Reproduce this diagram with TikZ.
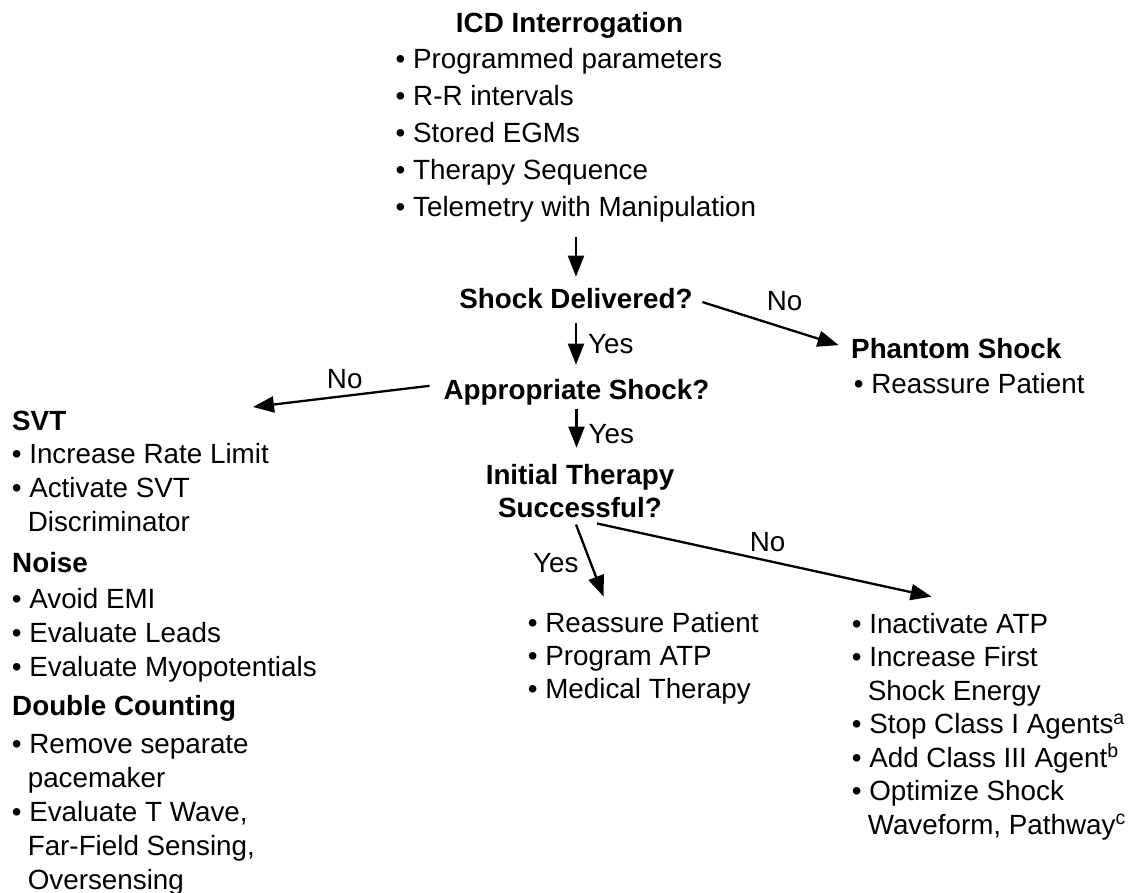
\documentclass[tikz,border=0pt]{standalone}
\usepackage{fontspec}
\setmainfont{Liberation Sans}
\usetikzlibrary{calc,arrows.meta}
\def\bul{\makebox[17.5pt][l]{•}}
\def\cnt{\hspace*{16pt}}
\tikzset{
	txt/.style={inner sep=0pt, anchor=base west, align=left, font=\fontsize{27.8}{34}\selectfont},
	hd/.style={txt, font=\fontsize{27.8}{34}\selectfont\bfseries},
	ques/.style={inner sep=0pt, anchor=base, align=center, font=\fontsize{27.8}{33}\selectfont\bfseries},
	lbl/.style={inner sep=0pt, font=\fontsize{27.8}{34}\selectfont},
	arr/.style={line width=2.3pt, -{Triangle[length=21pt,width=16pt]}}
}

\begin{document}
\begin{tikzpicture}[x=1pt,y=-1pt]
			%%%%% START %%%%%
			\useasboundingbox (0,0) rectangle (1130,893);
			
			% multi-line nodes sit on the baseline of their last line
			\node[ques] (icd) at (569.5,33) {ICD Interrogation};
			\node[txt, font=\fontsize{27.8}{37}\selectfont] (icdlist) at (395.5,217) {\bul Programmed parameters\\\bul R-R intervals\\\bul Stored EGMs\\\bul Therapy Sequence\\\bul Telemetry with Manipulation};
			
			\node[ques] (shock) at (576,309) {Shock Delivered?};
			\node[hd] (phantom) at (851,359) {Phantom Shock};
			\node[txt] (phantomlist) at (853.6,393) {\bul Reassure Patient};
			
			\node[ques] (approp) at (576.5,399) {Appropriate Shock?};
			\coordinate (svtin) at (253,407);
			
			\node[hd] (svt) at (12,430) {SVT};
			\node[txt] (svtlist) at (11.6,531) {\bul Increase Rate Limit\\\bul Activate SVT\\\cnt Discriminator};
			\node[hd] (noise) at (12,572) {Noise};
			\node[txt] (noiselist) at (11.6,676) {\bul Avoid EMI\\\bul Evaluate Leads\\\bul Evaluate Myopotentials};
			\node[hd] (dblcount) at (12,715) {Double Counting};
			\node[txt] (dblcountlist) at (11.6,889) {\bul Remove separate\\\cnt pacemaker\\\bul Evaluate T Wave,\\\cnt Far-Field Sensing,\\\cnt Oversensing};
			
			\node[ques] (initial) at (580,517) {Initial Therapy\\Successful?};
			\node[txt, font=\fontsize{27.8}{33}\selectfont] (midlist) at (527.6,698) {\bul Reassure Patient\\\bul Program ATP\\\bul Medical Therapy};
			\node[txt, font=\fontsize{27.8}{33.5}\selectfont] (rightlist) at (851.6,834) {\bul Inactivate ATP\\\bul Increase First\\\cnt Shock Energy\\\bul Stop Class I Agents\textsuperscript{a}\\\bul Add Class III Agent\textsuperscript{b}\\\bul Optimize Shock\\\cnt Waveform, Pathway\textsuperscript{c}};
			
			\draw[arr, shorten <=14pt, shorten >=12pt] (icdlist.south) -- (icdlist.south |- shock.north);
			\draw[arr, shorten <=14pt, shorten >=14pt] (shock.south) -- (shock.south |- approp.north) node[lbl, midway, right=11pt] {Yes};
			\draw[arr, shorten <=4pt, shorten >=16pt] (approp.south) -- (approp.south |- initial.north) node[lbl, midway, right=11pt] {Yes};
			\draw[arr, shorten <=10pt, shorten >=13pt] (shock.east) -- (phantom.west) node[lbl, pos=.58, above=16pt] {No};
			\draw[arr] ($(approp.west)+(-14,-6)$) -- (svtin) node[lbl, pos=.48, above=6pt] {No};
			\draw[arr] ($(initial.south)+(-4,7)$) -- ($(midlist.north west)+(76,-15)$) node[lbl, pos=.53, left=11pt] {Yes};
			\draw[arr] ($(initial.south)+(17,6)$) -- ($(rightlist.north west)+(80,-16)$) node[lbl, pos=.51, above=8pt] {No};
			%%%%% END %%%%%
\end{tikzpicture}
\end{document}
